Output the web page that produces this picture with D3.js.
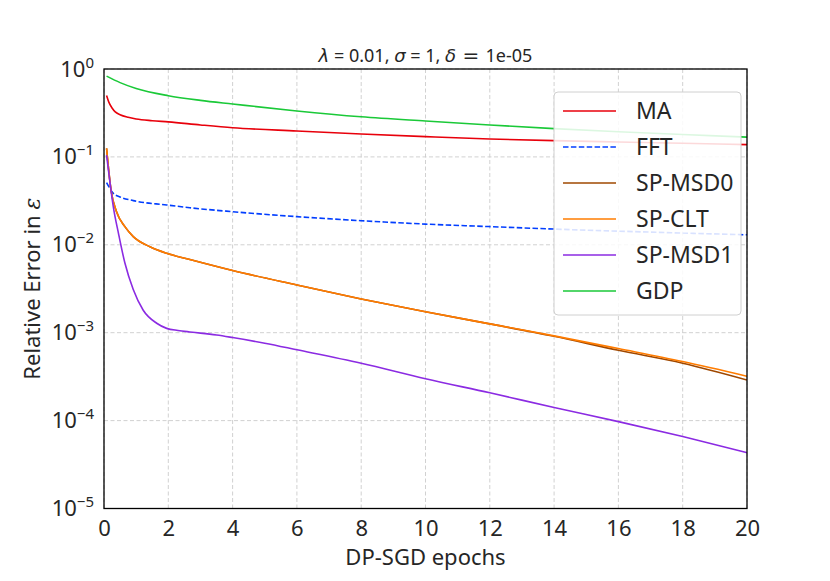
<!DOCTYPE html>
<html><head><meta charset="utf-8">
<script src="https://cdn.jsdelivr.net/npm/d3@7"></script>
<style>body{margin:0;background:#fff}svg{display:block;font-family:"Noto Sans",sans-serif}</style>
</head><body><svg id="c" width="830" height="581"></svg>
<script>
const seriesNames = ["MA","FFT","SP-MSD0","SP-CLT","SP-MSD1","GDP"];
const seriesColors = ["#e8000b","#023eff","#9f4800","#ff7c00","#8b2be2","#1ac938"];
const xTicks = [0,2,4,6,8,10,12,14,16,18,20];
const yTickExps = [0,-1,-2,-3,-4,-5];

const maX   = [0.08,0.15,0.25,0.35,0.5,0.75,1,1.5,2,3,4,6,8,10,12,14,16,18,20];
const maY   = [0.50,0.42,0.36,0.325,0.302,0.282,0.27,0.258,0.250,0.231,0.215,0.197,0.182,0.170,0.160,0.153,0.148,0.143,0.138];
const fftX  = [0.08,0.29,0.5,0.91,1.95,2.67,4,6,8,10,12,14,16,18,20];
const fftY  = [0.051,0.0385,0.035,0.0318,0.0284,0.0264,0.0238,0.0209,0.0188,0.0172,0.0161,0.0151,0.0143,0.0136,0.0130];
const msd0X = [0.08,0.218,0.39,0.65,0.91,1.43,1.95,2.67,4,6,8,10,12,14,16,18,20];
const msd0Y = [0.125,0.042,0.0238,0.0161,0.0124,0.0095,0.0080,0.0068,0.0051,0.00349,0.00242,0.00173,0.00126,0.00091,0.00063,0.00045,0.00029];
const cltX  = [0.08,0.218,0.39,0.65,0.91,1.43,1.95,2.67,4,6,8,10,12,14,16,18,20];
const cltY  = [0.125,0.042,0.0238,0.0161,0.0124,0.0095,0.0080,0.0068,0.0051,0.00349,0.00242,0.00173,0.00126,0.00092,0.00066,0.00047,0.00032];
const msd1X = [0.08,0.19,0.29,0.45,0.65,0.91,1.22,1.64,1.95,2.3,2.67,3,3.5,4,5,6,8,10,12,14,16,18,20];
const msd1Y = [0.105,0.050,0.027,0.0135,0.0062,0.0031,0.0018,0.00128,0.00112,0.00106,0.00102,0.00099,0.00094,0.00088,0.00076,0.00064,0.00045,0.00030,0.000207,0.000141,0.0000973,0.0000658,0.0000432];
const gdpX  = [0.08,0.5,1,2,3,4,6,8,10,12,14,16,18,20];
const gdpY  = [0.83,0.70,0.60,0.497,0.44,0.40,0.333,0.286,0.256,0.231,0.210,0.193,0.180,0.168];

const seriesX = [maX,fftX,msd0X,cltX,msd1X,gdpX];
const seriesY = [maY,fftY,msd0Y,cltY,msd1Y,gdpY];

const svg = d3.select("#c");
const L=104,R=747,T=69,B=508.5;
const x = d3.scaleLinear().domain([0,20]).range([L,R]);
const y = d3.scaleLog().domain([1e-5,1]).range([B,T]);

// grid
const grid = svg.append("g").attr("stroke","#cccccc").attr("stroke-width",0.9).attr("stroke-dasharray","4,2.5");
xTicks.forEach(t=>grid.append("line").attr("x1",x(t)).attr("x2",x(t)).attr("y1",T).attr("y2",B));
yTickExps.forEach(e=>grid.append("line").attr("x1",L).attr("x2",R).attr("y1",y(Math.pow(10,e))).attr("y2",y(Math.pow(10,e))));

// lines
svg.append("defs").append("clipPath").attr("id","clip").append("rect").attr("x",L).attr("y",T).attr("width",R-L).attr("height",B-T);
const line = d3.line().x(d=>x(d[0])).y(d=>y(d[1])).curve(d3.curveMonotoneX);
const lg = svg.append("g").attr("clip-path","url(#clip)");
seriesNames.forEach((n,i)=>{
  const pts = seriesX[i].map((v,j)=>[v,seriesY[i][j]]);
  lg.append("path").attr("d",line(pts)).attr("fill","none").attr("stroke",seriesColors[i])
    .attr("stroke-width",1.6).attr("stroke-dasharray", n==="FFT"?"5.5,2.4":null);
});

// frame
svg.append("rect").attr("x",L).attr("y",T).attr("width",R-L).attr("height",B-T).attr("fill","none").attr("stroke","#000").attr("stroke-width",1.3);

// x ticks
const xa = svg.append("g").attr("transform",`translate(0,${B})`).call(d3.axisBottom(x).tickValues(xTicks).tickSize(0).tickPadding(12).tickFormat(d3.format("d")));
xa.select(".domain").remove();
xa.selectAll("text").attr("font-size",22).attr("fill","#262626").attr("font-family","Noto Sans");

// y ticks
const ya = svg.append("g").attr("transform",`translate(${L},0)`).call(d3.axisLeft(y).tickValues(yTickExps.map(e=>Math.pow(10,e))).tickSize(0).tickPadding(10).tickFormat(()=>""));
ya.select(".domain").remove();
ya.selectAll(".tick").each(function(d){
  const e = Math.round(Math.log10(d));
  const t = d3.select(this).select("text").attr("font-size",22).attr("fill","#262626").attr("font-family","Noto Sans").attr("dy","0.32em");
  t.append("tspan").text("10");
  t.append("tspan").attr("font-size",15).attr("dy","-0.6em").text(e===0?"0":"\u2212"+(-e));
});

// axis labels
svg.append("text").attr("x",(L+R)/2).attr("y",565).attr("text-anchor","middle").attr("font-size",22).attr("fill","#262626").text("DP-SGD epochs");
const yl = svg.append("text").attr("transform",`translate(40,${(T+B)/2}) rotate(-90)`).attr("text-anchor","middle").attr("font-size",22).attr("fill","#262626");
yl.append("tspan").text("Relative Error in ");
yl.append("tspan").attr("font-style","italic").attr("font-family","DejaVu Serif").text("\u03b5");

// title
const tt = svg.append("text").attr("x",(L+R)/2).attr("y",62).attr("text-anchor","middle").attr("font-size",18).attr("fill","#262626");
tt.append("tspan").attr("font-style","italic").attr("font-family","DejaVu Sans").text("\u03bb");
tt.append("tspan").text(" = 0.01, ");
tt.append("tspan").attr("font-style","italic").attr("font-family","DejaVu Sans").text("\u03c3");
tt.append("tspan").text(" = 1, ");
tt.append("tspan").attr("font-style","italic").attr("font-family","DejaVu Sans").text("\u03b4");
tt.append("tspan").attr("font-family","DejaVu Sans").attr("font-size",20).text(" = ");
tt.append("tspan").text(" 1e-05");

// legend
const lgX=554, lgY=92, lgW=187, lgH=223;
svg.append("rect").attr("x",lgX).attr("y",lgY).attr("width",lgW).attr("height",lgH).attr("rx",4)
  .attr("fill","#fff").attr("fill-opacity",0.85).attr("stroke","#d0d0d0").attr("stroke-width",1);
seriesNames.forEach((n,i)=>{
  const yy = 111 + i*36;
  svg.append("line").attr("x1",563).attr("x2",616).attr("y1",yy).attr("y2",yy).attr("stroke",seriesColors[i]).attr("stroke-width",1.6)
    .attr("stroke-dasharray", n==="FFT"?"5.5,2.4":null);
  svg.append("text").attr("x",636).attr("y",yy).attr("dy","0.35em").attr("font-size",23).attr("fill","#262626").text(n);
});
</script></body></html>
